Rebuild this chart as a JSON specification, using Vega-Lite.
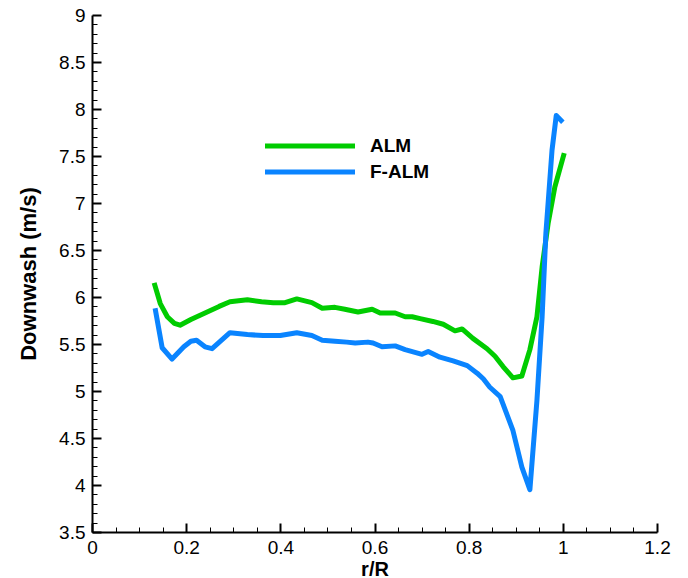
{
  "$schema": "https://vega.github.io/schema/vega-lite/v6.json",
  "width": 565,
  "height": 517,
  "autosize": "none",
  "padding": {"left": 92, "top": 15, "right": 31, "bottom": 46},
  "background": "white",
  "config": {
    "view": {"stroke": null},
    "font": "Liberation Sans",
    "axis": {"grid": false, "domainColor": "black", "domainWidth": 2, "tickColor": "black", "labelColor": "black", "titleColor": "black", "labelFont": "Liberation Sans", "titleFont": "Liberation Sans", "labelFontSize": 19, "titleFontSize": 22, "titleFontWeight": "bold"}
  },
  "data": {"values": [
    {"series": "ALM", "r": 0.132, "v": 6.15},
    {"series": "ALM", "r": 0.145, "v": 5.93},
    {"series": "ALM", "r": 0.16, "v": 5.79},
    {"series": "ALM", "r": 0.175, "v": 5.72},
    {"series": "ALM", "r": 0.187, "v": 5.70},
    {"series": "ALM", "r": 0.21, "v": 5.76},
    {"series": "ALM", "r": 0.24, "v": 5.83},
    {"series": "ALM", "r": 0.27, "v": 5.90},
    {"series": "ALM", "r": 0.293, "v": 5.95},
    {"series": "ALM", "r": 0.33, "v": 5.97},
    {"series": "ALM", "r": 0.36, "v": 5.95},
    {"series": "ALM", "r": 0.385, "v": 5.94},
    {"series": "ALM", "r": 0.41, "v": 5.94},
    {"series": "ALM", "r": 0.435, "v": 5.98},
    {"series": "ALM", "r": 0.467, "v": 5.94},
    {"series": "ALM", "r": 0.489, "v": 5.88},
    {"series": "ALM", "r": 0.516, "v": 5.89},
    {"series": "ALM", "r": 0.537, "v": 5.87},
    {"series": "ALM", "r": 0.565, "v": 5.84},
    {"series": "ALM", "r": 0.595, "v": 5.87},
    {"series": "ALM", "r": 0.612, "v": 5.83},
    {"series": "ALM", "r": 0.644, "v": 5.83},
    {"series": "ALM", "r": 0.665, "v": 5.79},
    {"series": "ALM", "r": 0.68, "v": 5.79},
    {"series": "ALM", "r": 0.697, "v": 5.77},
    {"series": "ALM", "r": 0.724, "v": 5.74},
    {"series": "ALM", "r": 0.746, "v": 5.71},
    {"series": "ALM", "r": 0.771, "v": 5.64},
    {"series": "ALM", "r": 0.786, "v": 5.66},
    {"series": "ALM", "r": 0.809, "v": 5.56},
    {"series": "ALM", "r": 0.839, "v": 5.45},
    {"series": "ALM", "r": 0.856, "v": 5.37},
    {"series": "ALM", "r": 0.873, "v": 5.26},
    {"series": "ALM", "r": 0.894, "v": 5.14},
    {"series": "ALM", "r": 0.913, "v": 5.16},
    {"series": "ALM", "r": 0.93, "v": 5.44},
    {"series": "ALM", "r": 0.945, "v": 5.79},
    {"series": "ALM", "r": 0.956, "v": 6.32},
    {"series": "ALM", "r": 0.969, "v": 6.79},
    {"series": "ALM", "r": 0.983, "v": 7.17},
    {"series": "ALM", "r": 1.003, "v": 7.53},
    {"series": "F-ALM", "r": 0.134, "v": 5.88},
    {"series": "F-ALM", "r": 0.149, "v": 5.46},
    {"series": "F-ALM", "r": 0.17, "v": 5.34},
    {"series": "F-ALM", "r": 0.195, "v": 5.47},
    {"series": "F-ALM", "r": 0.21, "v": 5.53},
    {"series": "F-ALM", "r": 0.222, "v": 5.54},
    {"series": "F-ALM", "r": 0.24, "v": 5.47},
    {"series": "F-ALM", "r": 0.255, "v": 5.45},
    {"series": "F-ALM", "r": 0.293, "v": 5.62},
    {"series": "F-ALM", "r": 0.33, "v": 5.60},
    {"series": "F-ALM", "r": 0.363, "v": 5.59},
    {"series": "F-ALM", "r": 0.40, "v": 5.59},
    {"series": "F-ALM", "r": 0.435, "v": 5.62},
    {"series": "F-ALM", "r": 0.467, "v": 5.59},
    {"series": "F-ALM", "r": 0.489, "v": 5.54},
    {"series": "F-ALM", "r": 0.516, "v": 5.53},
    {"series": "F-ALM", "r": 0.541, "v": 5.52},
    {"series": "F-ALM", "r": 0.559, "v": 5.51},
    {"series": "F-ALM", "r": 0.586, "v": 5.52},
    {"series": "F-ALM", "r": 0.597, "v": 5.51},
    {"series": "F-ALM", "r": 0.616, "v": 5.47},
    {"series": "F-ALM", "r": 0.644, "v": 5.48},
    {"series": "F-ALM", "r": 0.665, "v": 5.44},
    {"series": "F-ALM", "r": 0.701, "v": 5.39},
    {"series": "F-ALM", "r": 0.714, "v": 5.42},
    {"series": "F-ALM", "r": 0.739, "v": 5.36},
    {"series": "F-ALM", "r": 0.767, "v": 5.32},
    {"series": "F-ALM", "r": 0.797, "v": 5.27},
    {"series": "F-ALM", "r": 0.818, "v": 5.19},
    {"series": "F-ALM", "r": 0.831, "v": 5.13},
    {"series": "F-ALM", "r": 0.845, "v": 5.04},
    {"series": "F-ALM", "r": 0.867, "v": 4.94},
    {"series": "F-ALM", "r": 0.894, "v": 4.58},
    {"series": "F-ALM", "r": 0.913, "v": 4.19},
    {"series": "F-ALM", "r": 0.93, "v": 3.95},
    {"series": "F-ALM", "r": 0.945, "v": 4.90},
    {"series": "F-ALM", "r": 0.956, "v": 5.79},
    {"series": "F-ALM", "r": 0.964, "v": 6.68},
    {"series": "F-ALM", "r": 0.977, "v": 7.56},
    {"series": "F-ALM", "r": 0.986, "v": 7.93},
    {"series": "F-ALM", "r": 1.0, "v": 7.86}
  ]},
  "mark": {"type": "line", "strokeWidth": 5, "strokeJoin": "round"},
  "encoding": {
    "x": {
      "field": "r", "type": "quantitative",
      "scale": {"domain": [0, 1.2], "nice": false, "zero": false},
      "axis": {
        "title": "r/R",
        "titleFontSize": 20,
        "values": [0, 0.05, 0.1, 0.15, 0.2, 0.25, 0.3, 0.35, 0.4, 0.45, 0.5, 0.55, 0.6, 0.65, 0.7, 0.75, 0.8, 0.85, 0.9, 0.95, 1, 1.05, 1.1, 1.15, 1.2],
        "labelExpr": "abs(datum.value*5 - round(datum.value*5)) < 0.0001 ? format(datum.value, '~g') : ''",
        "tickSize": {"condition": {"test": "abs(datum.value*5 - round(datum.value*5)) < 0.0001", "value": -9}, "value": -5},
        "tickWidth": {"condition": {"test": "abs(datum.value*5 - round(datum.value*5)) < 0.0001", "value": 2}, "value": 1},
        "labelPadding": 15,
        "labelFlush": false,
        "labelOverlap": false,
        "titlePadding": -2
      }
    },
    "y": {
      "field": "v", "type": "quantitative",
      "scale": {"domain": [3.5, 9], "nice": false, "zero": false},
      "axis": {
        "title": "Downwash (m/s)",
        "values": [3.5, 3.6, 3.7, 3.8, 3.9, 4, 4.1, 4.2, 4.3, 4.4, 4.5, 4.6, 4.7, 4.8, 4.9, 5, 5.1, 5.2, 5.3, 5.4, 5.5, 5.6, 5.7, 5.8, 5.9, 6, 6.1, 6.2, 6.3, 6.4, 6.5, 6.6, 6.7, 6.8, 6.9, 7, 7.1, 7.2, 7.3, 7.4, 7.5, 7.6, 7.7, 7.8, 7.9, 8, 8.1, 8.2, 8.3, 8.4, 8.5, 8.6, 8.7, 8.8, 8.9, 9],
        "labelExpr": "abs(datum.value*2 - round(datum.value*2)) < 0.0001 ? format(datum.value, '~g') : ''",
        "tickSize": {"condition": {"test": "abs(datum.value*2 - round(datum.value*2)) < 0.0001", "value": -9}, "value": -5},
        "tickWidth": {"condition": {"test": "abs(datum.value*2 - round(datum.value*2)) < 0.0001", "value": 2}, "value": 1},
        "labelPadding": 16,
        "labelFlush": false,
        "labelOverlap": false,
        "titlePadding": 18
      }
    },
    "color": {
      "field": "series", "type": "nominal",
      "scale": {"domain": ["ALM", "F-ALM"], "range": ["#00cc00", "#0a84ff"]},
      "legend": {
        "title": null,
        "orient": "none",
        "legendX": 208,
        "legendY": 121,
        "symbolType": "M-6,0H6",
        "symbolSize": 225,
        "symbolStrokeWidth": 5,
        "labelFont": "Liberation Sans",
        "labelFontSize": 19,
        "labelFontWeight": "bold",
        "labelColor": "black",
        "labelOffset": 50,
        "rowPadding": 6
      }
    }
  }
}
